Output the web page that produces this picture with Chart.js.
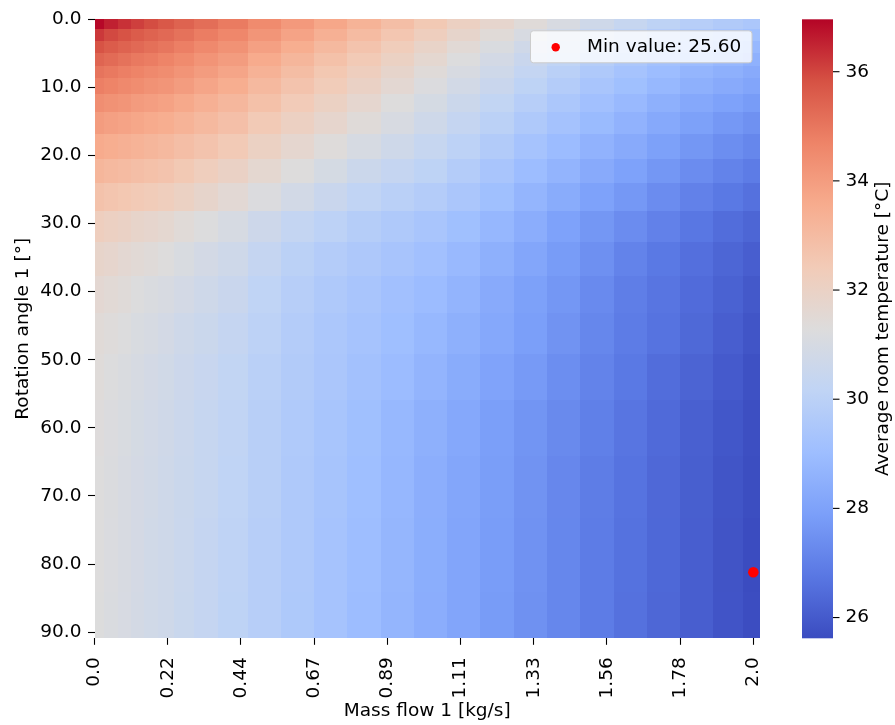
<!DOCTYPE html>
<html>
<head>
<meta charset="utf-8">
<title>Average room temperature</title>
<script src="https://cdn.jsdelivr.net/npm/chart.js@4.4.1/dist/chart.umd.min.js"></script>
<style>
  html, body { margin: 0; padding: 0; background: #fff; }
  #wrap { width: 895px; height: 725px; }
</style>
</head>
<body>
<div id="wrap"><canvas id="heat" width="895" height="725"></canvas></div>
<script>
// sampled columns (mass flow 1, kg/s) and rows (rotation angle 1, deg)
const massFlow = [0, 0.04, 0.081, 0.121, 0.162, 0.202, 0.263, 0.323, 0.404, 0.505, 0.606, 0.707, 0.808,
  0.909, 1.01, 1.111, 1.212, 1.313, 1.414, 1.515, 1.616, 1.717, 1.818, 1.919, 2.0];
const rotationAngle = [0, 1.82, 3.64, 5.45, 7.27, 9.09, 11.82, 14.55, 18.18, 21.82, 25.45, 30.0, 34.55,
  40.0, 45.45, 51.82, 59.09, 68.18, 77.27, 90.0];

// average room temperature [°C], one row per rotation angle
const avgTemp = [
  [36.9, 36.55, 36.3, 36.1, 35.9, 35.7, 35.45, 35.2, 34.9, 34.5, 34.1, 33.7, 33.3, 32.9, 32.5, 32.1, 31.75, 31.4, 31.05, 30.7, 30.4, 30.1, 29.85, 29.65, 29.5],
  [36.2, 35.95, 35.8, 35.6, 35.45, 35.3, 35.1, 34.85, 34.6, 34.2, 33.8, 33.4, 33.0, 32.6, 32.2, 31.8, 31.45, 31.05, 30.7, 30.35, 30.05, 29.75, 29.5, 29.3, 29.1],
  [35.8, 35.6, 35.45, 35.3, 35.15, 35.0, 34.8, 34.55, 34.3, 33.9, 33.5, 33.1, 32.7, 32.3, 31.9, 31.5, 31.15, 30.75, 30.4, 30.05, 29.75, 29.45, 29.2, 29.0, 28.8],
  [35.4, 35.25, 35.1, 34.95, 34.85, 34.7, 34.5, 34.25, 34.0, 33.6, 33.2, 32.8, 32.45, 32.05, 31.65, 31.25, 30.9, 30.5, 30.15, 29.8, 29.5, 29.2, 28.95, 28.75, 28.55],
  [35.05, 34.95, 34.8, 34.7, 34.55, 34.45, 34.25, 34.0, 33.75, 33.35, 32.95, 32.55, 32.2, 31.8, 31.4, 31.05, 30.7, 30.3, 29.95, 29.6, 29.3, 29.0, 28.7, 28.5, 28.3],
  [34.8, 34.7, 34.55, 34.45, 34.3, 34.2, 34.0, 33.75, 33.5, 33.1, 32.7, 32.35, 32.0, 31.6, 31.2, 30.85, 30.5, 30.1, 29.75, 29.4, 29.1, 28.8, 28.5, 28.3, 28.1],
  [34.4, 34.3, 34.2, 34.05, 33.95, 33.85, 33.65, 33.4, 33.15, 32.8, 32.4, 32.05, 31.7, 31.3, 30.95, 30.6, 30.25, 29.85, 29.5, 29.15, 28.85, 28.5, 28.2, 28.0, 27.8],
  [34.0, 33.9, 33.8, 33.7, 33.6, 33.5, 33.3, 33.1, 32.85, 32.45, 32.1, 31.75, 31.4, 31.05, 30.7, 30.35, 30.0, 29.6, 29.25, 28.9, 28.6, 28.25, 27.95, 27.7, 27.5],
  [33.6, 33.5, 33.4, 33.3, 33.2, 33.1, 32.9, 32.7, 32.45, 32.05, 31.7, 31.35, 31.0, 30.7, 30.4, 30.05, 29.7, 29.3, 28.95, 28.6, 28.3, 27.95, 27.65, 27.4, 27.2],
  [33.2, 33.1, 33.0, 32.9, 32.8, 32.7, 32.5, 32.25, 32.0, 31.65, 31.3, 30.95, 30.6, 30.35, 30.1, 29.75, 29.4, 29.0, 28.65, 28.3, 28.0, 27.65, 27.35, 27.1, 26.9],
  [32.75, 32.65, 32.55, 32.45, 32.35, 32.25, 32.05, 31.8, 31.55, 31.2, 30.85, 30.5, 30.2, 29.95, 29.75, 29.45, 29.1, 28.7, 28.35, 28.0, 27.7, 27.35, 27.05, 26.8, 26.6],
  [32.2, 32.1, 32.0, 31.85, 31.75, 31.65, 31.45, 31.25, 31.0, 30.65, 30.3, 30.05, 29.8, 29.6, 29.4, 29.1, 28.75, 28.4, 28.0, 27.65, 27.35, 27.05, 26.75, 26.5, 26.3],
  [31.85, 31.75, 31.6, 31.5, 31.4, 31.3, 31.1, 30.9, 30.7, 30.35, 30.0, 29.75, 29.55, 29.35, 29.15, 28.85, 28.5, 28.15, 27.8, 27.45, 27.1, 26.8, 26.55, 26.3, 26.1],
  [31.6, 31.5, 31.4, 31.25, 31.15, 31.05, 30.9, 30.7, 30.5, 30.15, 29.85, 29.6, 29.4, 29.15, 28.95, 28.65, 28.3, 27.95, 27.65, 27.3, 26.95, 26.7, 26.45, 26.2, 25.95],
  [31.45, 31.35, 31.25, 31.1, 31.0, 30.88, 30.7, 30.55, 30.35, 30.05, 29.75, 29.5, 29.3, 29.05, 28.8, 28.5, 28.2, 27.9, 27.55, 27.2, 26.9, 26.65, 26.38, 26.1, 25.85],
  [31.38, 31.25, 31.15, 31.0, 30.9, 30.8, 30.62, 30.45, 30.25, 29.95, 29.68, 29.45, 29.2, 28.95, 28.65, 28.35, 28.05, 27.75, 27.4, 27.1, 26.8, 26.5, 26.25, 26.0, 25.75],
  [31.33, 31.2, 31.1, 30.95, 30.85, 30.75, 30.57, 30.4, 30.18, 29.9, 29.63, 29.37, 29.1, 28.8, 28.5, 28.2, 27.9, 27.6, 27.28, 27.0, 26.7, 26.42, 26.15, 25.9, 25.7],
  [31.3, 31.18, 31.07, 30.93, 30.82, 30.72, 30.55, 30.38, 30.15, 29.88, 29.6, 29.33, 29.05, 28.75, 28.45, 28.15, 27.85, 27.55, 27.22, 26.93, 26.65, 26.37, 26.12, 25.85, 25.66],
  [31.28, 31.16, 31.05, 30.92, 30.8, 30.7, 30.53, 30.36, 30.12, 29.85, 29.58, 29.3, 29.02, 28.72, 28.42, 28.12, 27.82, 27.52, 27.2, 26.9, 26.62, 26.35, 26.1, 25.83, 25.62],
  [31.27, 31.15, 31.04, 30.91, 30.8, 30.7, 30.52, 30.35, 30.1, 29.84, 29.57, 29.3, 29.0, 28.7, 28.4, 28.1, 27.8, 27.5, 27.2, 26.9, 26.6, 26.33, 26.1, 25.84, 25.65],
];

const xTickValues = [0, 0.2222, 0.4444, 0.6667, 0.8889, 1.1111, 1.3333, 1.5556, 1.7778, 2.0];
const xTickLabels = ["0.0", "0.22", "0.44", "0.67", "0.89", "1.11", "1.33", "1.56", "1.78", "2.0"];
const yTickValues = [0, 10, 20, 30, 40, 50, 60, 70, 80, 90];
const yTickLabels = ["0.0", "10.0", "20.0", "30.0", "40.0", "50.0", "60.0", "70.0", "80.0", "90.0"];
const cbTickValues = [26, 28, 30, 32, 34, 36];
const cbMin = 25.62;
const cbMax = 36.96;
const minPoint = { mass: 2.0, angle: 81.2, value: 25.60 };

// matplotlib coolwarm, sampled every 0.1
const coolwarm = ["#3b4cc0", "#5977e3", "#7b9ff9", "#9ebeff", "#c0d4f5", "#dddcdc",
  "#f2cbb7", "#f7ac8e", "#ee8468", "#d65244", "#b40426"];

// grid is 100 x 100 steps over 0..2 kg/s and 0..90 deg
const cellW = 2 / 99;
const cellH = 90 / 99;
const xMax = cellW * 100;
const yMax = cellH * 100;

const FONT = "'DejaVu Sans', sans-serif";
const FS = 18.5;

function hexToRgb(h) {
  return [parseInt(h.slice(1, 3), 16), parseInt(h.slice(3, 5), 16), parseInt(h.slice(5, 7), 16)];
}
const cmapRgb = coolwarm.map(hexToRgb);

function colorFor(v) {
  let t = (v - cbMin) / (cbMax - cbMin);
  t = Math.max(0, Math.min(1, t));
  const p = t * (cmapRgb.length - 1);
  const i = Math.min(Math.floor(p), cmapRgb.length - 2);
  const f = p - i;
  const a = cmapRgb[i], b = cmapRgb[i + 1];
  const c = a.map((ch, k) => Math.round(ch + (b[k] - ch) * f));
  return `rgb(${c[0]},${c[1]},${c[2]})`;
}

function edges(samples, step, lo, hi) {
  const centers = samples.map((s) => s + step / 2);
  const out = [lo];
  for (let i = 0; i < centers.length - 1; i++) out.push((centers[i] + centers[i + 1]) / 2);
  out.push(hi);
  return out;
}

const heatmapPlugin = {
  id: "heatmap",
  beforeDatasetsDraw(chart) {
    const { ctx, scales } = chart;
    const xs = scales.x, ys = scales.y;
    const xe = edges(massFlow, cellW, 0, xMax);
    const ye = edges(rotationAngle, cellH, 0, yMax);
    ctx.save();
    for (let r = 0; r < rotationAngle.length; r++) {
      const y0 = Math.round(ys.getPixelForValue(ye[r]));
      const y1 = Math.round(ys.getPixelForValue(ye[r + 1]));
      for (let c = 0; c < massFlow.length; c++) {
        const x0 = Math.round(xs.getPixelForValue(xe[c]));
        const x1 = Math.round(xs.getPixelForValue(xe[c + 1]));
        ctx.fillStyle = colorFor(avgTemp[r][c]);
        ctx.fillRect(x0, y0, x1 - x0, y1 - y0);
      }
    }
    ctx.restore();
  },
};

const colorbarPlugin = {
  id: "colorbar",
  afterDraw(chart) {
    const { ctx, chartArea, scales } = chart;
    const cb = scales.cb;
    const left = chartArea.right + 42;
    const width = 31;
    const top = cb.getPixelForValue(cbMax);
    const bottom = cb.getPixelForValue(cbMin);
    ctx.save();
    const grad = ctx.createLinearGradient(0, bottom, 0, top);
    coolwarm.forEach((col, i) => grad.addColorStop(i / (coolwarm.length - 1), col));
    ctx.fillStyle = grad;
    ctx.fillRect(left, top, width, bottom - top);

    ctx.strokeStyle = "#000";
    ctx.lineWidth = 1.1;
    cbTickValues.forEach((v) => {
      const py = cb.getPixelForValue(v);
      ctx.beginPath();
      ctx.moveTo(left + width, py);
      ctx.lineTo(left + width + 6.5, py);
      ctx.stroke();
    });

    ctx.fillStyle = "#000";
    ctx.font = `${FS}px ${FONT}`;
    ctx.textAlign = "center";
    ctx.textBaseline = "middle";
    ctx.translate(883.5, (top + bottom) / 2);
    ctx.rotate(-Math.PI / 2);
    ctx.fillText("Average room temperature [°C]", 0, 0);
    ctx.restore();

    // legend box inside the plot, top right
    const bx = chartArea.right - 230;
    const by = chartArea.top + 11;
    ctx.save();
    ctx.beginPath();
    ctx.roundRect(bx + 0.5, by + 0.5, 221.5, 32, 3);
    ctx.fillStyle = "rgba(255,255,255,0.8)";
    ctx.fill();
    ctx.strokeStyle = "#cccccc";
    ctx.lineWidth = 1;
    ctx.stroke();
    ctx.beginPath();
    ctx.arc(bx + 25.7, by + 17, 4.2, 0, Math.PI * 2);
    ctx.fillStyle = "#ff0000";
    ctx.fill();
    ctx.fillStyle = "#000";
    ctx.font = `${FS}px ${FONT}`;
    ctx.textAlign = "left";
    ctx.textBaseline = "alphabetic";
    ctx.fillText(`Min value: ${minPoint.value.toFixed(2)}`, bx + 57, by + 21.7);
    ctx.restore();
  },
};

Chart.defaults.font.family = FONT;
Chart.defaults.font.size = FS;
Chart.defaults.color = "#000";

const tickGrid = { drawOnChartArea: false, drawTicks: true, tickLength: 6.5, tickWidth: 1.1, tickColor: "#000" };

new Chart(document.getElementById("heat"), {
  type: "scatter",
  data: {
    datasets: [{
      label: "Min value",
      data: [{ x: minPoint.mass, y: minPoint.angle }],
      pointRadius: 5.3,
      pointBackgroundColor: "#ff0000",
      pointBorderWidth: 0,
      yAxisID: "y",
    }],
  },
  options: {
    responsive: false,
    animation: false,
    events: [],
    layout: { padding: { top: 19.3, left: 0, right: 0, bottom: 0 } },
    plugins: { legend: { display: false }, tooltip: { enabled: false } },
    scales: {
      x: {
        type: "linear",
        min: 0,
        max: xMax,
        afterBuildTicks: (s) => { s.ticks = xTickValues.map((v) => ({ value: v })); },
        afterFit: (s) => { s.height = 86.7; },
        ticks: { autoSkip: false, minRotation: 90, maxRotation: 90, padding: 12.5,
          callback: (v, i) => xTickLabels[i] },
        grid: tickGrid,
        border: { display: false },
        title: { display: true, text: "Mass flow 1 [kg/s]", padding: { top: 0, bottom: 3 } },
      },
      y: {
        type: "linear",
        reverse: true,
        min: 0,
        max: yMax,
        afterBuildTicks: (s) => { s.ticks = yTickValues.map((v) => ({ value: v })); },
        afterFit: (s) => { s.width = 94.5; },
        ticks: { autoSkip: false, padding: 6.5, callback: (v, i) => yTickLabels[i] },
        grid: tickGrid,
        border: { display: false },
        title: { display: true, text: "Rotation angle 1 [°]", padding: { top: 12, bottom: 0 } },
      },
      cb: {
        type: "linear",
        position: "right",
        min: cbMin,
        max: cbMax,
        afterBuildTicks: (s) => { s.ticks = cbTickValues.map((v) => ({ value: v })); },
        // the wide label padding must not push the plot area down
        afterFit: (s) => { s.width = 135; s.paddingTop = 0; s.paddingBottom = 0; },
        ticks: { padding: 85.6, callback: (v) => String(v) },
        grid: { display: false, drawTicks: false },
        border: { display: false },
      },
    },
  },
  plugins: [heatmapPlugin, colorbarPlugin],
});
</script>
</body>
</html>
